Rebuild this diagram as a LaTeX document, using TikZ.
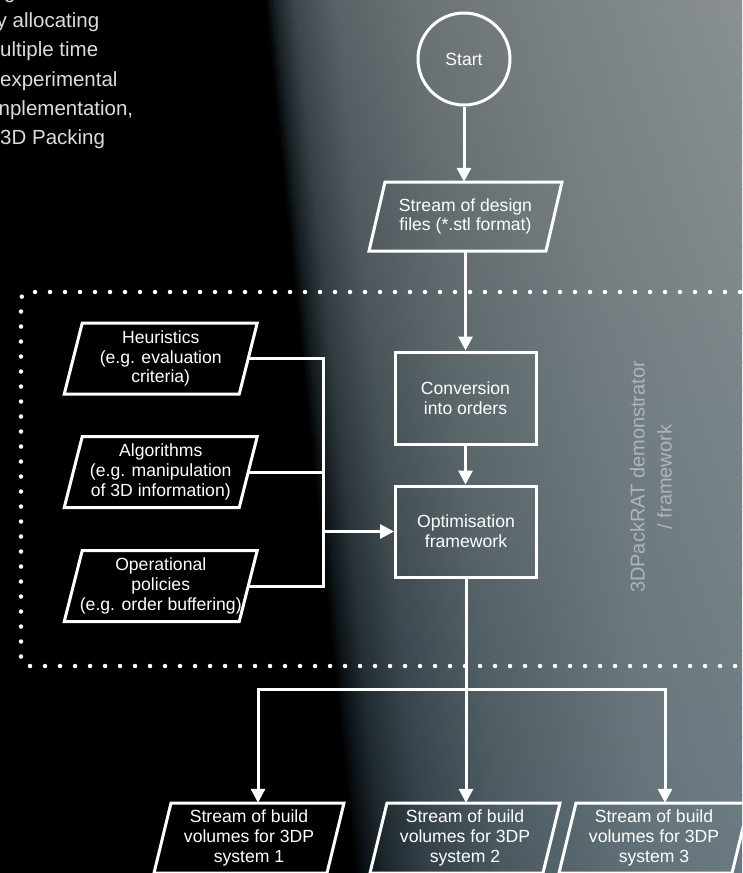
\documentclass[tikz,border=0pt]{standalone}
\usepackage{fontspec}
\setmainfont{Liberation Sans}
\usetikzlibrary{arrows.meta}
\definecolor{T0}{HTML}{000000}
\definecolor{T1}{HTML}{1A2226}
\definecolor{T2}{HTML}{3E484C}
\definecolor{T3}{HTML}{596266}
\definecolor{T4}{HTML}{6A7274}
\definecolor{T5}{HTML}{7B8283}
\definecolor{T6}{HTML}{8E9494}
\definecolor{B0}{HTML}{000000}
\definecolor{B1}{HTML}{0A1014}
\definecolor{B2}{HTML}{1C262D}
\definecolor{B3}{HTML}{323F47}
\definecolor{B4}{HTML}{4A5960}
\definecolor{B5}{HTML}{64737B}
\definecolor{B6}{HTML}{72828A}
\definecolor{labcol}{HTML}{AEB5B8}
\definecolor{toptext}{HTML}{DCDCDC}
\tikzset{
  ln/.style={draw=white, line width=3pt, line join=miter},
  arr/.style={ln, -{Triangle[width=14pt,length=14pt]}},
  boxtxt/.style={inner sep=0pt, align=center, text=white, font=\fontsize{17.6}{19.6}\selectfont},
  rbox/.style={boxtxt, draw=white, line width=3pt, minimum width=141pt},
  tl/.style={inner sep=0pt, text=toptext, font=\fontsize{20.5}{29}\selectfont, anchor=base west},
}
% name, cx, cy, width, height, slant, text
\newcommand{\parbx}[7]{%
  \node[boxtxt, minimum width=#4pt, minimum height=#5pt] (#1) at (#2,#3) {#7};
  \draw[ln] ({#2-#4/2+#6/2},{#3-#5/2}) -- ({#2+#4/2+#6/2},{#3-#5/2})
    -- ({#2+#4/2-#6/2},{#3+#5/2}) -- ({#2-#4/2-#6/2},{#3+#5/2}) -- cycle;}
\begin{document}
\begin{tikzpicture}[x=1pt,y=-1pt]
\useasboundingbox (0,0) rectangle (742,873);
\clip (0,0) rectangle (742,873);
\fill[black] (0,0) rectangle (742,873);
% background gradient strips
\foreach \oa/\ob/\ta/\tb/\ba/\bb in {0/10/T0/T1/B0/B1, 10/30/T1/T2/B1/B2, 30/70/T2/T3/B2/B3, 70/150/T3/T4/B3/B4, 150/300/T4/T5/B4/B5, 300/520/T5/T6/B5/B6}{
  \pgfmathsetmacro\len{\ob-\oa}
  \pgfmathtruncatemacro\n{max(2,ceil(\len/3))}
  \foreach \i in {1,...,\n}{
    \pgfmathsetmacro\xa{\oa+(\i-1)*\len/\n}
    \pgfmathsetmacro\xb{\oa+\i*\len/\n+0.8}
    \pgfmathtruncatemacro\p{100*(\i-0.5)/\n}
    \shade[top color=\tb!\p!\ta, bottom color=\bb!\p!\ba]
      (265+\xa,0) -- (265+\xb,0) -- (355+\xb,873) -- (355+\xa,873) -- cycle;
  }
}
% dotted frame
\draw[white, line width=4.5pt, line cap=round, dash pattern=on 0pt off 15pt, rounded corners=8pt]
  (770,292) -- (21,292) -- (21,666) -- (770,666);
% top-left text fragments
\node[tl] (p0) at (4,-2) {g};
\node[tl] (p1) at (-3.5,27.3) {y allocating};
\node[tl] (p2) at (0,56.5) {ultiple time};
\node[tl] (p3) at (0,86) {experimental};
\node[tl] (p4) at (-1.5,115) {nplementation,};
\node[tl] (p5) at (0,144) {3D Packing};
% nodes
\node[boxtxt, circle, draw=white, line width=3pt, minimum size=92pt] (start) at (464,59) {Start};
\parbx{design}{465.5}{216.5}{177}{69}{16}{Stream of design\\files (*.stl format)}
\node[rbox, minimum height=92pt] (conv) at (465.5,398) {Conversion\\into orders};
\node[rbox, minimum height=91pt] (opt) at (466,531.5) {Optimisation\\framework};
\parbx{heur}{160.75}{358.5}{175}{71}{18}{Heuristics\\(e.g. evaluation\\criteria)}
\parbx{alg}{160.75}{472}{175}{71}{18}{Algorithms\\(e.g. manipulation\\of 3D information)}
\parbx{ops}{160.75}{586}{175}{71}{18}{Operational\\policies\\(e.g. order buffering)}
\parbx{out1}{249}{838}{173}{70}{17}{Stream of build\\volumes for 3DP\\system 1}
\parbx{out2}{465}{838}{173}{70}{17}{Stream of build\\volumes for 3DP\\system 2}
\parbx{out3}{654}{838}{173}{70}{17}{Stream of build\\volumes for 3DP\\system 3}
\node[rotate=90, align=center, text=labcol, font=\fontsize{20}{27}\selectfont, inner sep=0pt] (lab) at (651,477) {3DPackRAT demonstrator\\/ framework};
% connectors
\draw[arr] (start.south) -- (start.south |- design.north);
\draw[arr] (design.south) -- (conv.north);
\draw[arr] (conv.south) -- (conv.south |- opt.north);
\coordinate (jn) at (323,531.5);
\draw[ln] (heur.east) -| (jn);
\draw[ln] (alg.east) -| (jn);
\draw[ln] (ops.east) -| (jn);
\draw[arr] (jn) -- (opt.west);
\coordinate (split) at (466,689);
\draw[ln] (opt.south) -- (split);
\draw[arr] (split) -| ([xshift=9pt]out1.north);
\draw[arr] (split) -- (split |- out2.north);
\draw[arr] (split) -| ([xshift=11pt]out3.north);
\end{tikzpicture}
\end{document}
